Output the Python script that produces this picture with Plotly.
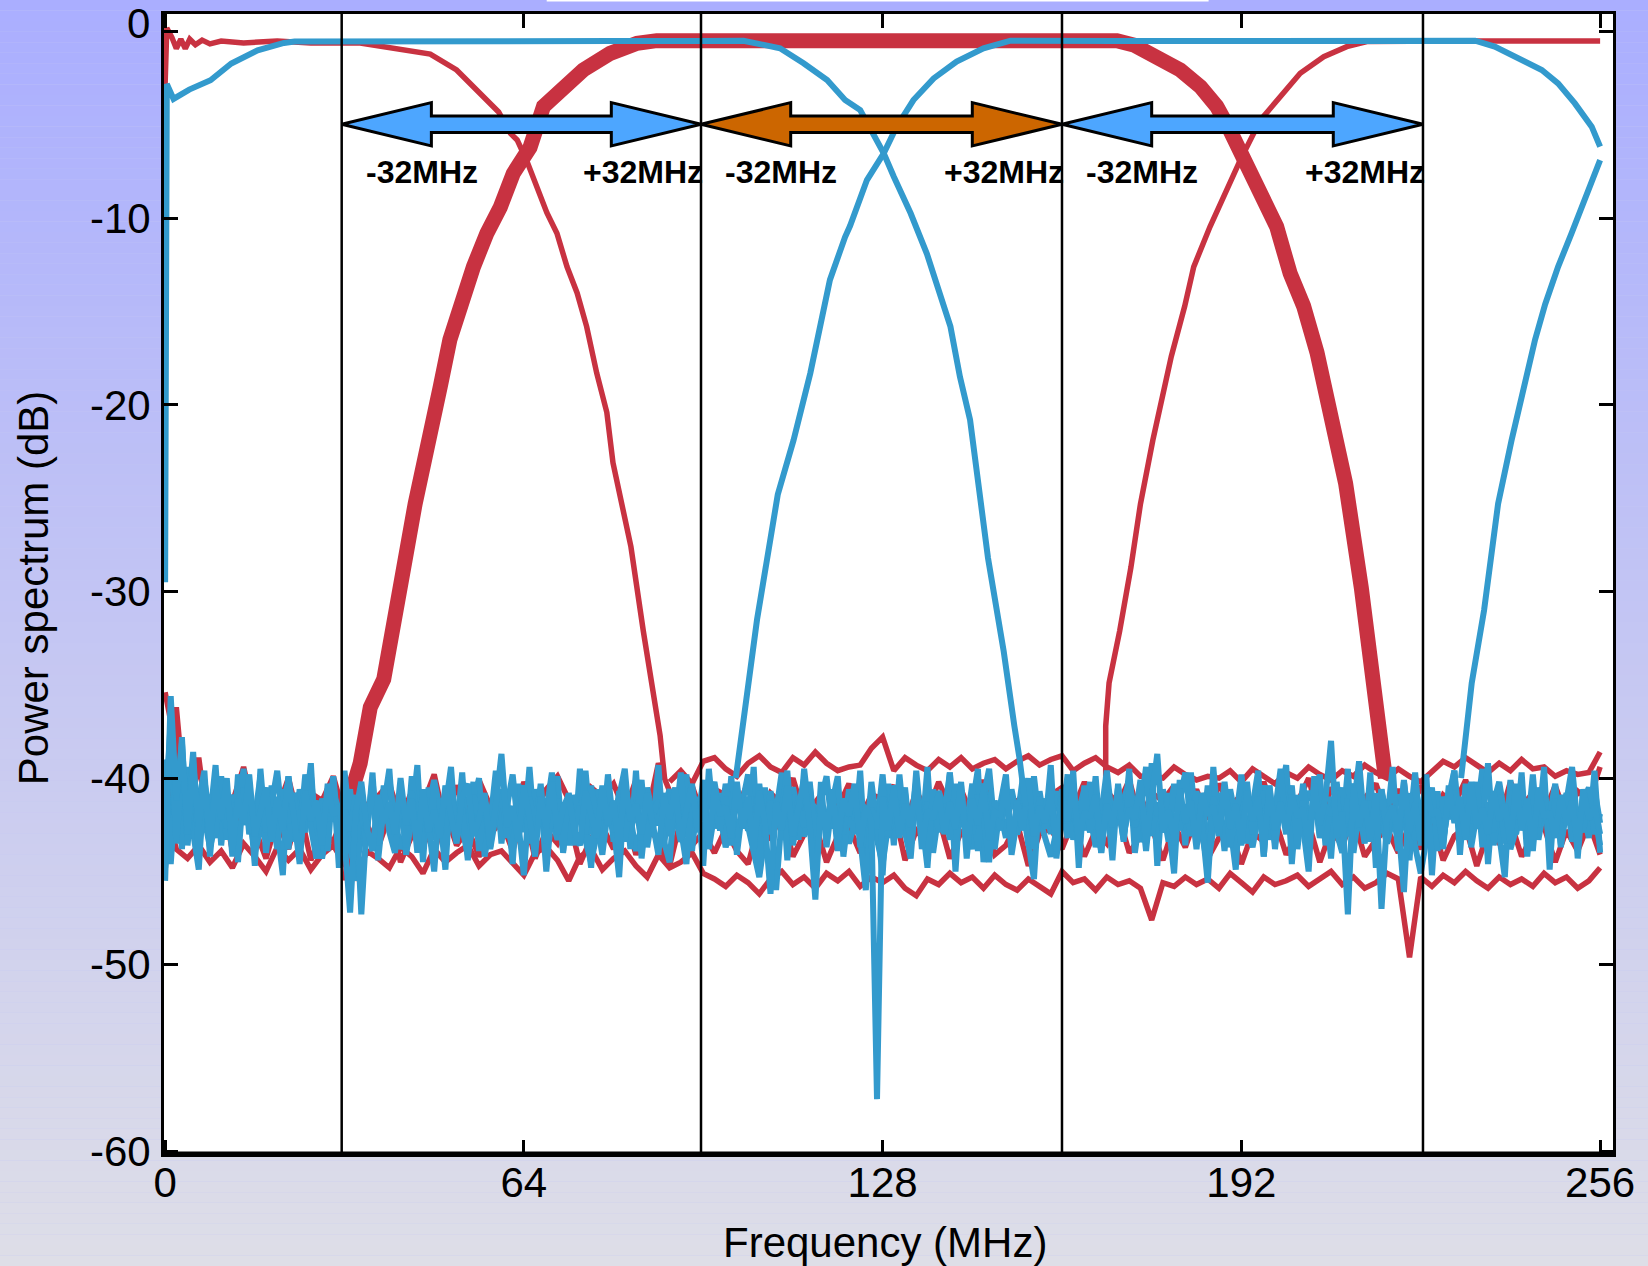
import plotly.graph_objects as go

# ---------------- data (MHz, dB) ----------------
r1_freq = [0, 0.3, 1.2, 2.0, 2.8, 3.6, 4.4, 5.4, 6.6, 8.0, 10.0, 14.0, 20.0, 26.0, 34.8, 41.3, 47.3,
           52.0, 55.6, 59.5, 61.6, 62.8, 64.5, 66.3, 68.1, 69.9, 71.7, 73.5, 75.2, 77.0, 78.8, 79.9,
           83.1, 85.3, 87.2, 88.3, 89.1]
r1_db = [-2.8, 0.2, -0.3, -0.9, -0.4, -0.9, -0.4, -0.7, -0.45, -0.65, -0.5, -0.6, -0.5, -0.6, -0.6,
         -0.9, -1.2, -2.05, -3.1, -4.3, -5.45, -5.8, -6.9, -8.3, -9.7, -10.8, -12.6, -14.0, -15.8,
         -18.3, -20.4, -23.1, -27.6, -32.1, -35.5, -37.7, -40.0]

r2_freq = [33.0, 33.9, 34.8, 36.6, 39.0, 40.3, 42.4, 44.6, 47.3, 49.1, 50.8, 52.6, 55.0, 57.4, 59.8,
           62.1, 65.1, 67.5, 71.1, 74.6, 79.4, 84.2, 87.7, 100, 120, 140, 160, 169.8, 172.8, 176.9,
           181.1, 184.7, 187.6, 190.0, 192.4, 195.4, 198.3, 200.7, 203.1, 205.5, 207.8, 210.6, 213.4,
           215.3, 217.1, 217.7]
r2_db = [-45.5, -40.1, -39.2, -36.2, -34.7, -32.8, -29.0, -25.3, -21.9, -19.0, -16.5, -14.7, -12.6,
         -10.8, -9.4, -7.6, -6.2, -4.0, -2.95, -2.05, -1.16, -0.62, -0.48, -0.45, -0.45, -0.45, -0.45,
         -0.48, -0.71, -1.34, -2.05, -2.95, -4.0, -5.3, -6.7, -8.7, -10.45, -12.95, -14.7, -17.2,
         -20.1, -24.2, -29.8, -34.3, -38.8, -40.0]

r3_freq = [167.8, 167.8, 168.4, 170.3, 172.3, 174.0, 176.2, 178.0, 179.5, 181.9, 183.5, 186.4, 188.8,
           191.8, 195.4, 199.5, 202.5, 206.7, 210.8, 214.4, 220, 230, 240, 250, 256]
r3_db = [-40.0, -37.2, -34.9, -32.1, -28.7, -25.3, -21.9, -19.3, -17.4, -14.7, -12.6, -10.45, -8.84,
         -6.88, -4.73, -3.3, -2.23, -1.34, -0.8, -0.53, -0.5, -0.5, -0.5, -0.5, -0.5]

b1_freq = [0, 0.3, 1.5, 4.3, 8.1, 11.8, 16.5, 21.2, 23.1, 40, 60, 80, 95, 103.2, 109.7, 113.9, 118.1,
           121.3, 124.0, 125.8, 128.2, 130.0, 133.0, 135.9, 138.3, 140.1, 141.8, 143.6, 146.8, 149.6,
           151.5, 152.4, 153.5]
b1_db = [-29.5, -2.8, -3.6, -3.1, -2.6, -1.7, -1.0, -0.6, -0.53, -0.5, -0.5, -0.5, -0.5, -0.48,
         -0.89, -1.69, -2.59, -3.66, -4.2, -5.27, -6.52, -7.77, -9.73, -11.9, -14.0, -15.8, -18.5,
         -20.8, -28.2, -33.2, -37.2, -38.9, -41.5]

b2_freq = [101.8, 102.8, 104.1, 105.6, 109.3, 112.1, 115.1, 118.6, 121.3, 122.2, 125.2, 128.2, 130.5,
           133.5, 137.1, 141.2, 146.0, 150.8, 170, 190, 210, 225, 233.7, 237.2, 240.8, 245.6, 248.5,
           251.5, 254.5, 256.0]
b2_db = [-40.0, -37.7, -34.9, -31.5, -24.8, -21.9, -18.3, -13.3, -11.0, -10.4, -7.95, -6.52, -5.09,
         -3.66, -2.5, -1.6, -0.89, -0.48, -0.5, -0.5, -0.5, -0.5, -0.48, -0.8, -1.34, -2.05, -2.77,
         -3.84, -5.09, -6.16]

b3_freq = [231.2, 232.1, 233.1, 235.3, 237.8, 240.2, 242.6, 244.4, 246.2, 248.5, 250.9, 252.7, 254.5, 256]
b3_db = [-40.0, -37.2, -34.9, -31.0, -25.3, -21.9, -18.7, -16.5, -14.6, -12.6, -10.8, -9.4, -7.95, -6.88]

# noise floors (1 MHz grid and 2 MHz grid)
freq_1mhz = list(range(0, 257))
freq_2mhz = list(range(0, 257, 2))
freq_hi = list(range(90, 257, 2))

blue_noise_a = [
    -45.5, -35.6, -41.2, -38.1, -43.0, -39.2, -42.6, -40.1, -43.5, -40.4,
    -42.2, -40.0, -43.9, -41.1, -42.4, -39.8, -43.1, -41.6, -40.5, -43.4,
    -41.0, -42.8, -39.9, -42.1, -44.6, -40.7, -42.3, -41.2, -43.6, -40.3,
    -42.0, -41.5, -43.3, -47.2, -41.8, -40.2, -42.7, -43.9, -40.9, -42.4,
    -41.3, -43.0, -40.0, -42.5, -41.1, -44.0, -40.6, -42.9, -41.7, -43.2,
    -40.4, -42.0, -43.5, -41.0, -40.3, -43.1, -42.2, -40.8, -43.7, -41.4,
    -38.7, -42.6, -41.5, -43.4, -40.5, -42.1, -44.2, -41.0, -42.7, -40.2,
    -43.0, -41.6, -40.9, -42.8, -43.6, -40.7, -41.9, -43.2, -40.4, -42.5,
    -41.2, -43.8, -40.1, -42.3, -41.4, -43.0, -40.8, -42.6, -44.1, -41.0,
    -42.2, -40.5, -43.3, -41.7, -40.3, -42.9, -41.1, -43.6, -40.6, -42.0,
    -41.5, -43.2, -40.2, -42.7, -41.0, -43.9, -40.7, -42.4, -46.2, -41.3,
    -42.8, -40.4, -43.1, -41.6, -40.0, -42.5, -46.5, -41.2, -42.9, -40.6,
    -43.4, -41.1, -42.0, -40.3, -43.7, -41.5, -42.3, -57.2, -41.0, -42.8,
    -40.5, -43.2, -41.4, -42.6, -40.1, -43.8, -41.7, -42.2, -40.8, -43.0,
    -41.3, -42.7, -40.2, -44.3, -41.1, -42.5, -40.6, -43.3, -41.8, -42.0,
    -40.4, -43.6, -41.2, -42.8, -40.0, -43.1, -41.5, -42.4, -40.7, -43.9,
    -41.0, -42.3, -40.3, -43.4, -41.8, -42.1, -40.9, -44.0, -41.4, -42.6,
    -40.5, -43.0, -41.6, -42.2, -40.1, -43.5, -41.1, -38.7, -42.9, -41.7,
    -43.3, -40.6, -42.4, -41.2, -43.8, -40.8, -42.0, -41.5, -43.1, -40.2,
    -42.7, -41.4, -43.6, -40.7, -42.3, -41.0, -44.2, -40.4, -42.8, -41.3,
    -43.0, -40.9, -42.1, -41.6, -43.7, -40.3, -42.5, -41.1, -38.0, -43.2,
    -41.8, -47.3, -40.5, -42.6, -41.2, -43.4, -40.8, -47.0, -42.2, -41.5,
    -43.1, -40.1, -42.9, -41.3, -43.6, -40.6, -42.0, -41.7, -43.8, -40.4,
    -42.4, -41.0, -43.3, -40.2, -42.7, -41.6, -43.0, -40.7, -42.3, -41.4,
    -43.5, -40.3, -42.8, -41.1, -43.9, -40.5, -42.1, -41.8, -43.2, -40.9,
    -42.5, -41.2, -43.7, -40.6, -42.2, -41.5, -43.0]

blue_noise_b = [
    -41.8, -37.0, -43.5, -39.5, -42.0, -38.6, -44.0, -40.8, -41.5, -43.2,
    -39.9, -42.7, -41.3, -44.5, -40.5, -42.0, -43.4, -40.2, -42.9, -41.6,
    -43.8, -40.6, -42.4, -41.0, -43.1, -39.8, -42.6, -44.3, -41.2, -42.0,
    -40.3, -43.5, -41.7, -42.8, -40.9, -47.3, -42.2, -41.0, -43.6, -40.4,
    -42.9, -44.0, -41.4, -42.3, -40.7, -43.3, -41.9, -42.5, -45.0, -41.1,
    -42.7, -40.5, -43.0, -41.6, -44.4, -40.9, -42.1, -41.3, -43.8, -42.0,
    -40.6, -43.2, -41.8, -42.4, -45.2, -41.0, -42.8, -40.3, -43.5, -42.2,
    -41.1, -43.9, -40.8, -42.6, -41.5, -43.0, -40.4, -42.3, -44.1, -41.7,
    -42.9, -40.7, -43.4, -41.2, -42.0, -40.1, -43.7, -41.9, -42.5, -40.8,
    -43.1, -41.4, -42.7, -44.6, -40.5, -42.2, -41.6, -43.3, -40.9, -42.8,
    -41.0, -43.6, -40.6, -42.4, -41.7, -43.0, -40.3, -42.9, -41.2, -46.0,
    -42.1, -40.7, -43.5, -41.5, -42.6, -40.2, -43.2, -41.8, -42.3, -40.9,
    -43.9, -41.3, -42.0, -40.5, -43.4, -46.0, -41.6, -42.7, -40.4, -43.1,
    -41.9, -42.5, -40.8, -43.7, -41.1, -42.2, -44.8, -40.6, -42.9, -41.4,
    -43.3, -40.3, -42.6, -41.7, -43.0, -40.9, -42.1, -44.5, -41.2, -42.8,
    -40.7, -43.5, -41.5, -42.3, -40.2, -43.8, -41.0, -42.7, -41.8, -43.2,
    -40.6, -42.4, -41.3, -43.6, -40.4, -42.9, -41.7, -44.0, -40.8, -42.2,
    -41.5, -43.3, -40.5, -42.6, -41.1, -43.9, -40.9, -42.0, -41.6, -43.4,
    -40.3, -42.8, -41.4, -43.1, -40.7, -42.5, -45.6, -41.0, -42.2, -40.6,
    -43.7, -41.8, -42.4, -40.2, -43.0, -41.3, -42.9, -40.8, -43.5, -41.6,
    -42.1, -40.4, -43.8, -41.2, -42.6, -40.9, -43.2, -41.5, -42.0, -40.7,
    -43.6, -41.1, -42.7, -40.3, -43.4, -41.9, -42.3, -40.6, -43.0, -41.7,
    -42.5, -46.1, -40.8, -43.3, -41.4, -42.8, -40.5, -43.9, -41.0, -42.2,
    -40.7, -43.1, -41.6, -42.4, -40.2, -43.7, -41.3, -42.9, -40.9, -43.5,
    -41.8, -42.0, -40.4, -43.2, -41.5, -42.6, -40.6, -43.8, -41.1, -42.3,
    -40.8, -43.4, -41.7, -42.9, -40.5, -43.0, -41.9]

blue_noise_c = [
    -43.0, -38.4, -42.2, -37.8, -43.6, -40.5, -41.2, -39.6, -44.2, -41.0,
    -40.4, -43.3, -40.9, -41.8, -39.5, -43.0, -42.1, -39.9, -44.0, -41.4,
    -39.6, -42.5, -43.8, -40.8, -41.9, -42.9, -39.8, -43.4, -41.1, -42.3,
    -39.9, -43.1, -42.0, -40.6, -44.2, -41.3, -42.8, -40.1, -43.5, -41.7,
    -40.0, -42.6, -41.5, -43.7, -39.9, -42.3, -41.0, -43.2, -40.4, -42.8,
    -41.6, -39.4, -43.3, -41.9, -42.6, -40.2, -43.9, -41.2, -42.0, -40.7,
    -43.1, -41.5, -39.8, -42.7, -41.0, -43.5, -40.6, -42.2, -41.8, -39.7,
    -42.9, -41.3, -43.6, -40.9, -42.4, -39.6, -43.0, -41.7, -42.2, -40.4,
    -43.4, -41.0, -39.5, -42.8, -41.6, -43.3, -40.5, -42.0, -41.2, -43.7,
    -40.8, -42.5, -39.7, -43.1, -41.4, -42.3, -40.1, -43.8, -41.9, -42.6,
    -40.3, -42.1, -43.4, -41.3, -39.8, -42.9, -41.6, -43.1, -40.7, -42.4,
    -41.8, -39.6, -43.6, -41.0, -42.5, -40.4, -43.3, -41.2, -39.9, -42.7,
    -41.5, -43.0, -40.6, -42.2, -41.9, -43.7, -40.2, -42.6, -39.8, -43.2,
    -41.1, -42.4, -40.5, -43.5, -39.6, -42.8, -41.3, -43.1, -40.8, -42.0,
    -39.7, -43.4, -41.6, -42.5, -40.3, -43.9, -41.0, -39.5, -42.7, -41.8,
    -43.2, -40.6, -42.1, -41.4, -43.6, -39.9, -42.5, -41.1, -43.0, -40.7,
    -42.4, -39.8, -43.3, -41.5, -42.8, -40.2, -43.7, -41.9, -39.6, -42.3,
    -41.0, -43.4, -40.5, -42.6, -41.7, -39.4, -43.1, -41.3, -42.9, -40.8,
    -43.6, -41.2, -39.7, -42.4, -41.6, -43.2, -40.4, -42.7, -41.1, -43.9,
    -40.6, -42.2, -39.9, -43.5, -41.4, -42.0, -40.7, -43.3, -41.8, -39.5,
    -42.8, -41.1, -43.0, -40.3, -42.5, -41.9, -39.8, -43.6, -41.0, -42.3,
    -40.5, -43.1, -41.6, -39.1, -42.7, -41.2, -43.4, -40.8, -42.0, -41.5,
    -43.8, -40.2, -42.6, -39.7, -43.2, -41.3, -42.4, -40.9, -43.5, -41.0,
    -39.6, -42.8, -41.7, -43.1, -40.4, -42.2, -39.2, -43.6, -41.4, -42.5,
    -40.7, -43.0, -41.1, -42.9, -39.8, -43.3, -41.6, -42.0, -40.3, -43.7,
    -41.2, -39.4, -42.6, -41.8, -43.2, -40.6, -42.4]

blue_noise_d = [
    -44.8, -39.5, -42.5, -40.6, -43.7, -41.2, -42.8, -39.9, -44.0, -41.6,
    -42.3, -40.2, -43.5, -41.0, -44.3, -40.8, -42.6, -45.0, -41.4, -42.0,
    -40.5, -43.8, -41.7, -42.9, -40.1, -43.2, -41.3, -44.1, -40.7, -42.4,
    -41.8, -43.6, -40.4, -42.7, -41.1, -43.3, -40.9, -42.2, -44.5, -41.5,
    -42.8, -40.3, -43.9, -41.2, -42.5, -40.6, -43.4, -41.9, -42.1, -40.2,
    -43.7, -41.4, -42.6, -45.3, -41.0, -42.9, -40.5, -43.1, -41.6, -42.3,
    -40.8, -43.5, -41.3, -42.0, -44.6, -40.4, -42.7, -41.8, -43.2, -40.7,
    -42.4, -41.1, -43.8, -40.3, -42.5, -41.7, -43.0, -40.9, -42.2, -44.2,
    -41.5, -42.8, -40.6, -43.6, -41.2, -42.1, -40.2, -43.4, -41.9, -42.6,
    -40.5, -43.1, -41.4, -44.7, -40.8, -42.3, -41.6, -43.7, -40.4, -42.9,
    -41.0, -43.3, -40.7, -42.0, -41.8, -44.0, -40.3, -42.6, -41.3, -43.5,
    -40.9, -42.2, -45.1, -41.5, -42.7, -40.6, -43.2, -41.1, -42.4, -40.2,
    -43.8, -41.7, -42.5, -40.8, -43.0, -41.4, -42.1, -40.5, -43.6]

blue_noise_e = [
    -39.0, -44.6, -40.3, -43.8, -39.4, -42.9, -44.9, -40.1, -42.2, -39.3,
    -43.6, -40.7, -44.2, -39.8, -42.5, -41.0, -44.7, -39.5, -43.1, -40.4,
    -42.7, -45.2, -39.9, -43.4, -40.6, -42.0, -39.2, -44.3, -41.3, -43.9,
    -40.0, -44.8, -39.6, -42.6, -45.5, -40.9, -43.0, -39.7, -44.4, -41.5,
    -39.5, -43.7, -40.8, -44.1, -42.1, -39.3, -44.5, -40.5, -43.3, -41.9,
    -44.9, -40.2, -42.8, -39.7, -43.9, -41.4, -40.0, -44.2, -42.4, -39.6,
    -43.5, -41.1, -44.6, -40.3, -42.9, -39.4, -43.2, -40.9, -45.0, -41.7,
    -39.9, -44.0, -41.2, -43.6, -39.5, -42.3, -44.8, -40.6, -43.1, -39.8,
    -42.6, -45.3, -40.4, -43.8, -39.6, -44.3, -41.5, -42.9, -39.3, -43.4,
    -44.5, -40.7, -42.2, -39.8, -43.9, -41.0, -44.7, -39.5, -42.7, -40.8,
    -43.5, -39.9, -44.1, -41.6, -42.8, -39.4, -45.1, -40.5, -43.0, -41.8,
    -39.7, -44.4, -40.9, -43.3, -39.5, -42.4, -44.9, -40.2, -43.7, -41.3,
    -39.9, -44.2, -41.7, -43.0, -39.6, -44.6, -40.8, -42.5, -45.2, -40.3,
    -43.6, -39.8, -42.9, -44.3, -40.6, -43.1, -39.4, -44.0, -41.9, -42.7,
    -39.7, -45.0, -40.4, -43.4, -41.2, -39.5, -44.5, -40.9, -43.8, -41.4,
    -39.8, -44.1, -42.2, -40.0, -43.5, -45.4, -40.7, -42.6, -39.3, -44.3,
    -41.6, -43.2, -39.6, -44.8, -40.5, -42.9, -39.9, -43.7, -41.1, -44.4,
    -40.3, -42.7, -39.5, -44.0, -41.8, -43.3, -39.2, -44.7, -40.6, -42.4,
    -45.1, -40.1, -43.6, -39.7, -42.8, -41.3, -44.5, -39.4, -43.0, -40.8,
    -42.5, -44.9, -39.8, -43.4, -41.5, -39.6, -44.2, -40.4, -43.8, -41.0,
    -39.3, -44.6, -40.9, -42.6, -45.0, -39.9, -43.1, -41.4, -44.3, -40.2,
    -42.9, -39.5, -44.0, -41.7, -43.5, -39.7, -44.8, -40.6, -42.3, -39.4,
    -43.9, -41.2, -44.4, -40.0, -42.7, -39.8, -45.2, -40.7, -43.3, -41.6,
    -39.6, -44.1, -40.3, -43.7, -41.9, -39.5, -44.6, -40.8, -42.8, -45.3,
    -40.1, -43.0, -39.7, -44.2, -41.3, -42.6, -39.4, -44.9, -40.5, -43.6,
    -41.8, -39.9, -44.3, -40.6, -43.1, -39.6, -44.0]

red_noise_hi = [
    -40.2, -39.6, -40.3, -39.1, -38.9, -39.5, -39.9, -39.2, -38.8, -39.4,
    -39.7, -38.9, -39.3, -38.6, -39.2, -39.6, -39.4, -39.3, -38.4, -37.8,
    -39.6, -38.9, -39.3, -39.6, -39.0, -39.4, -38.9, -39.5, -39.2, -39.0,
    -39.5, -39.1, -38.8, -39.3, -39.0, -38.8, -39.6, -39.2, -38.9, -39.4,
    -39.7, -39.3, -39.9, -39.9, -40.0, -39.4, -39.8, -40.1, -39.9, -40.0,
    -39.6, -40.2, -39.5, -39.9, -40.3, -39.7, -40.0, -39.4, -39.8, -40.1,
    -39.6, -39.9, -39.3, -39.7, -40.0, -39.5, -39.9, -40.2, -39.6, -39.1,
    -39.4, -38.9, -39.3, -39.7, -39.2, -39.6, -39.0, -39.5, -39.4, -39.9,
    -39.6, -39.8, -39.7, -38.6]

red_noise_lo = [
    -41.5, -43.8, -44.3, -43.6, -44.5, -43.9, -44.8, -43.5, -44.2, -45.0,
    -43.7, -44.4, -43.8, -44.9, -44.1, -43.6, -44.6, -45.4, -43.9, -44.3,
    -44.8, -43.7, -44.2, -45.1, -43.8, -44.5, -44.0, -43.6, -44.7, -44.1,
    -43.9, -44.6, -45.2, -44.0, -43.7, -44.4, -45.5, -44.2, -43.8, -44.9,
    -44.3, -43.9, -44.7, -45.3, -44.1, -44.8, -44.5, -44.0, -45.1, -45.4,
    -45.8, -45.2, -45.6, -46.2, -45.4, -45.0, -45.7, -45.3, -45.9, -45.1,
    -45.5, -45.0, -45.8, -45.3, -45.6, -45.2, -45.9, -46.3, -45.4, -45.7,
    -45.1, -45.6, -45.3, -45.9, -45.2, -45.7, -46.0, -45.4, -45.8, -46.2,
    -45.0, -45.6, -45.4, -46.0, -45.3, -45.7, -45.5, -45.9, -47.6, -45.6,
    -45.8, -45.3, -45.7, -45.4, -45.9, -45.1, -45.6, -46.1, -45.3, -45.7,
    -45.5, -45.2, -45.8, -45.4, -45.0, -45.7, -45.3, -45.9, -45.6, -45.1,
    -45.4, -49.6, -45.3, -45.8, -45.2, -45.6, -45.0, -45.5, -45.9, -45.3,
    -45.7, -45.4, -45.8, -45.1, -45.6, -45.3, -45.9, -45.5, -44.8]

red_noise_m1 = [
    -35.4, -38.5, -40.9, -39.6, -41.8, -40.2, -41.3, -39.4, -42.1, -40.6,
    -41.7, -40.0, -42.4, -40.8, -41.2, -39.9, -42.0, -40.5, -41.6, -40.9,
    -40.3, -42.2, -40.7, -41.4, -39.8, -42.5, -40.4, -41.9, -40.1, -41.5,
    -40.8, -42.3, -40.2, -41.7, -40.6, -39.9, -41.1, -42.4, -40.5, -41.0,
    -40.3, -41.8, -40.1, -42.0, -39.2, -40.7, -41.5, -40.4, -42.1, -40.6,
    -40.9, -41.7, -40.2, -42.3, -40.8, -41.4, -40.0, -42.0, -41.3, -40.5,
    -41.6, -40.3, -42.2, -40.9, -41.1, -40.4, -42.5, -40.7, -41.8, -40.2,
    -41.5, -40.6, -42.1, -40.1, -41.9, -40.8, -41.3, -40.4, -42.4, -40.9,
    -40.5, -41.7, -40.2, -42.0, -40.7, -41.4, -40.1, -42.3, -40.8, -41.2,
    -40.4, -41.9, -40.6, -42.2, -40.3, -41.5, -40.9, -41.8, -40.2, -42.1,
    -40.7, -41.3, -40.0, -42.4, -40.5, -41.6, -40.8, -41.1, -40.3, -42.0,
    -40.6, -41.8, -40.4, -42.2, -40.9, -41.4, -40.1, -41.7, -40.6, -42.3,
    -40.2, -41.5, -40.8, -41.9, -40.4, -42.1, -40.7, -41.2, -39.4]

red_noise_m2 = [
    -44.0, -36.2, -42.8, -38.9, -43.5, -40.6, -43.9, -41.5, -42.7, -44.3,
    -42.2, -43.8, -41.6, -44.4, -42.9, -43.4, -41.9, -44.1, -42.5, -43.7,
    -42.0, -44.5, -43.1, -42.4, -44.0, -41.8, -43.6, -42.7, -44.2, -43.0,
    -42.3, -43.9, -41.7, -44.3, -42.8, -43.5, -42.1, -44.6, -43.2, -42.6,
    -43.8, -41.9, -44.1, -42.5, -43.4, -44.7, -42.2, -43.6, -42.9, -44.0,
    -42.7, -43.9, -44.6, -42.4, -43.3, -41.8, -44.2, -43.0, -42.5, -44.5,
    -43.1, -42.6, -44.0, -42.3, -43.7, -41.6, -44.4, -42.8, -43.5, -42.1,
    -44.3, -42.9, -43.4, -42.2, -44.1, -43.6, -42.4, -44.7, -43.0, -42.7,
    -43.8, -42.3, -44.2, -42.8, -43.5, -41.9, -44.0, -43.1, -42.6, -44.4,
    -42.5, -43.7, -42.0, -44.3, -43.2, -42.7, -44.6, -42.9, -43.4, -42.2,
    -44.1, -43.0, -42.4, -44.5, -42.8, -43.6, -42.1, -44.2, -43.3, -42.7,
    -44.0, -42.5, -43.8, -42.2, -44.4, -43.1, -42.6, -44.7, -42.9, -43.5,
    -42.3, -44.2, -43.0, -42.6, -44.5, -42.8, -43.9, -42.4, -44.1]

# annotation data
band_edges = [31.5, 95.6, 160.0, 224.4]
arrow_fills = ["#4DA6FF", "#CC6600", "#4DA6FF"]
x_tick_vals = [0, 64, 128, 192, 256]
x_tick_text = ["0", "64", "128", "192", "256"]
y_tick_vals = [0, -10, -20, -30, -40, -50, -60]
y_tick_text = ["", "-10", "-20", "-30", "-40", "-50", "-60"]
y_top_label = "0"

# ---------------- styling ----------------
RED = "#C83241"
BLUE = "#339ACD"
FONT = "Liberation Sans, Arial, Helvetica, sans-serif"
W, H = 1648, 1266
ML, MR, MT, MB = 164, 35, 14, 112

fig = go.Figure()


def add(x, y, color, width):
    fig.add_trace(go.Scatter(x=x, y=y, mode="lines", line=dict(color=color, width=width),
                             hoverinfo="skip", showlegend=False))


# red noise, red filters
add(freq_2mhz, red_noise_lo, RED, 5.5)
add(freq_hi, red_noise_hi, RED, 5.5)
add(freq_2mhz, red_noise_m1, RED, 5.5)
add(freq_2mhz, red_noise_m2, RED, 5.5)
add(r1_freq, r1_db, RED, 5.5)
add(r3_freq, r3_db, RED, 5.5)
add(r2_freq, r2_db, RED, 15)
# blue noise, blue filters
add(freq_2mhz, blue_noise_d, BLUE, 6)
add(freq_1mhz, blue_noise_e, BLUE, 6)
add(freq_1mhz, blue_noise_c, BLUE, 6)
add(freq_1mhz, blue_noise_b, BLUE, 6)
add(freq_1mhz, blue_noise_a, BLUE, 6)
add(b1_freq, b1_db, BLUE, 6)
add(b2_freq, b2_db, BLUE, 6)
add(b3_freq, b3_db, BLUE, 6)

shapes = []
# background gradient over the whole page
top_rgb = (170, 174, 255)
bot_rgb = (222, 222, 231)
NB = 120
pw = W - ML - MR
ph = H - MT - MB
for i in range(NB):
    py0 = H * i / NB
    py1 = H * (i + 1) / NB
    t = (i + 0.5) / NB
    c = tuple(round(top_rgb[k] + (bot_rgb[k] - top_rgb[k]) * t) for k in range(3))
    shapes.append(dict(type="rect", xref="paper", yref="paper", layer="below",
                       x0=-ML / pw, x1=1 + MR / pw,
                       y0=(H - MB - py1) / ph, y1=(H - MB - py0) / ph,
                       line=dict(width=0), fillcolor="rgb(%d,%d,%d)" % c))
# white plot area
shapes.append(dict(type="rect", xref="paper", yref="paper", layer="below",
                   x0=0, x1=1, y0=0, y1=1, line=dict(width=0), fillcolor="white"))
# thin white strip at the top edge
shapes.append(dict(type="rect", xref="paper", yref="paper", layer="below",
                   x0=(546.7 - ML) / pw, x1=(1208.6 - ML) / pw,
                   y0=(H - MB - 1.5) / ph, y1=(H - MB) / ph,
                   line=dict(width=0), fillcolor="white"))

# vertical band separators
for xe in band_edges:
    shapes.append(dict(type="line", xref="x", yref="paper", x0=xe, x1=xe, y0=0, y1=1,
                       line=dict(color="black", width=2.5), layer="above"))

# double-headed arrows
yc, hl, hh, sh = -4.96, 16.0, 1.16, 0.44
for i, fill in enumerate(arrow_fills):
    xl, xr = band_edges[i], band_edges[i + 1]
    pts = [(xl, yc), (xl + hl, yc + hh), (xl + hl, yc + sh), (xr - hl, yc + sh), (xr - hl, yc + hh),
           (xr, yc), (xr - hl, yc - hh), (xr - hl, yc - sh), (xl + hl, yc - sh), (xl + hl, yc - hh)]
    path = "M " + " L ".join("%.3f,%.3f" % p for p in pts) + " Z"
    shapes.append(dict(type="path", xref="x", yref="y", path=path, fillcolor=fill,
                       line=dict(color="black", width=3), layer="above"))

# thicker bottom axis line
shapes.append(dict(type="line", xref="paper", yref="paper", x0=-0.001, x1=1.001, y0=0, y1=0,
                   line=dict(color="black", width=5), layer="above"))

annotations = []
for i in range(3):
    annotations.append(dict(x=band_edges[i] + 4.0, y=-7.5, xref="x", yref="y", xanchor="left",
                            yanchor="middle", text="<b>-32MHz</b>", showarrow=False,
                            font=dict(family=FONT, size=32, color="black")))
    annotations.append(dict(x=band_edges[i + 1] + 0.7, y=-7.5, xref="x", yref="y", xanchor="right",
                            yanchor="middle", text="<b>+32MHz</b>", showarrow=False,
                            font=dict(family=FONT, size=32, color="black")))
annotations.append(dict(x=0, y=y_tick_vals[0], xref="paper", yref="y", xanchor="right",
                        yanchor="middle", xshift=-11.6, yshift=8.7, text=y_top_label,
                        showarrow=False, font=dict(family=FONT, size=42, color="black")))
annotations.append(dict(x=0.5, y=0, xref="paper", yref="paper", xanchor="center", yanchor="middle",
                        yshift=-88, xshift=-3.5, text="Frequency (MHz)", showarrow=False,
                        font=dict(family=FONT, size=42, color="black")))
annotations.append(dict(x=0, y=0.5, xref="paper", yref="paper", xanchor="center", yanchor="middle",
                        xshift=-130.4, yshift=-4.6, text="Power spectrum (dB)", textangle=-90,
                        showarrow=False, font=dict(family=FONT, size=42, color="black")))

axis_common = dict(showgrid=False, zeroline=False, showline=True, linecolor="black", linewidth=3,
                   mirror="ticks", ticks="inside", ticklen=14, tickwidth=2.5, tickcolor="black",
                   tickfont=dict(family=FONT, size=42, color="black"))

fig.update_layout(
    width=W, height=H,
    margin=dict(l=ML, r=MR, t=MT, b=MB, pad=0),
    paper_bgcolor="rgb(196,198,243)",
    plot_bgcolor="white",
    showlegend=False,
    shapes=shapes,
    annotations=annotations,
    xaxis=dict(range=[-0.2, 258.3], tickmode="array", tickvals=x_tick_vals, ticktext=x_tick_text,
               ticklabelstandoff=-10, **axis_common),
    yaxis=dict(range=[-60.14, 0.95], tickmode="array", tickvals=y_tick_vals, ticktext=y_tick_text,
               ticklabelstandoff=2, **axis_common),
)

fig.write_html("out.html", config={"displayModeBar": False},
               post_script="document.body.style.margin='0px';")
